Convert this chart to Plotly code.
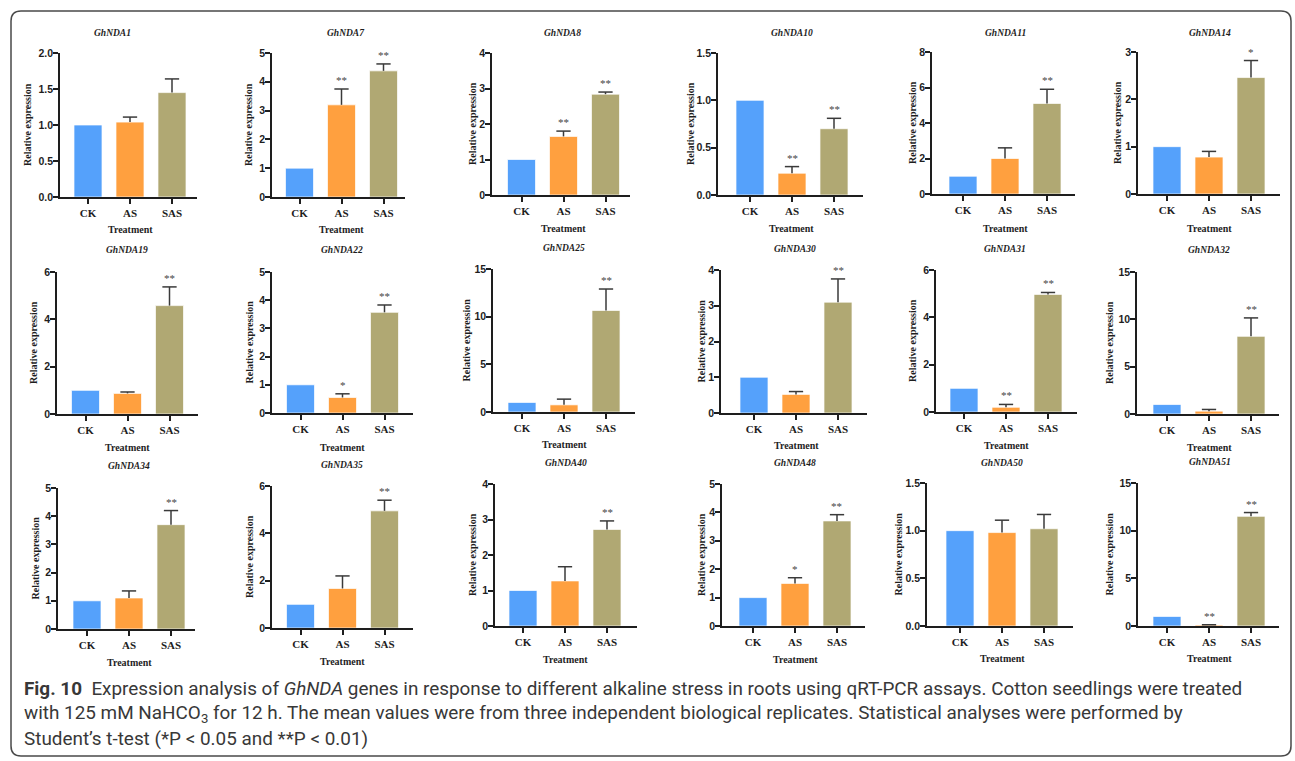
import plotly.graph_objects as go

W, H = 1295, 761

# ---------------- data ----------------
genes = ["GhNDA1", "GhNDA7", "GhNDA8", "GhNDA10", "GhNDA11", "GhNDA14",
         "GhNDA19", "GhNDA22", "GhNDA25", "GhNDA30", "GhNDA31", "GhNDA32",
         "GhNDA34", "GhNDA35", "GhNDA40", "GhNDA48", "GhNDA50", "GhNDA51"]
treatments = ["CK", "AS", "SAS"]
ck_mean = [1.0, 1.0, 1.0, 1.0, 1.0, 1.0, 1.0, 1.0, 1.0,
           1.0, 1.0, 1.0, 1.0, 1.0, 1.0, 1.0, 1.0, 1.0]
as_mean = [1.04, 3.20, 1.65, 0.23, 2.00, 0.78,
           0.87, 0.55, 0.75, 0.52, 0.20, 0.30,
           1.10, 1.67, 1.27, 1.50, 0.98, 0.10]
as_err = [0.07, 0.55, 0.15, 0.07, 0.60, 0.12,
          0.06, 0.13, 0.60, 0.08, 0.12, 0.18,
          0.25, 0.53, 0.40, 0.20, 0.13, 0.03]
sas_mean = [1.45, 4.38, 2.84, 0.70, 5.10, 2.46,
            4.58, 3.57, 10.65, 3.10, 4.97, 8.20,
            3.70, 4.95, 2.72, 3.70, 1.02, 11.50]
sas_err = [0.19, 0.24, 0.06, 0.11, 0.80, 0.36,
           0.79, 0.26, 2.25, 0.65, 0.08, 1.95,
           0.50, 0.45, 0.24, 0.22, 0.15, 0.40]
as_sig = ["", "**", "**", "**", "", "",
          "", "*", "", "", "**", "",
          "", "", "", "*", "", "**"]
sas_sig = ["", "**", "**", "**", "**", "*",
           "**", "**", "**", "**", "**", "**",
           "**", "**", "**", "**", "", "**"]
y_top = [2.0, 5, 4, 1.5, 8, 3,
         6, 5, 15, 4, 6, 15,
         5, 6, 4, 5, 1.5, 15]
y_step = [0.5, 1, 1, 0.5, 2, 1,
          2, 1, 5, 1, 2, 5,
          1, 2, 1, 1, 0.5, 5]

# ---------------- layout (pixels) ----------------
axis_left = [60, 272, 492, 718, 932, 1138,
             57, 272, 493, 721, 936, 1137,
             58, 272, 495, 722, 927, 1138]
axis_right = [197, 405, 630, 863, 1075, 1280,
              198, 413, 635, 867, 1077, 1279,
              195, 413, 637, 865, 1073, 1279]
ck_center = [88, 299.5, 521.5, 750, 963, 1167,
             85.5, 300.5, 522, 754, 964, 1167,
             87, 300.5, 523, 753, 960, 1167]
plot_top = [53, 53, 53, 53, 52, 52,
            272, 272, 269, 270, 270, 272,
            488, 486, 484, 484, 483, 483]
plot_bottom = [197, 197, 195, 195, 194, 194,
               414, 413, 412, 413, 412, 414,
               629, 628, 626, 626, 626, 626]
title_x = [112, 346, 562, 792, 1005, 1210,
           127, 342, 564, 795, 1005, 1209,
           129, 342, 566, 795, 1002, 1210]
title_y = [33, 33, 33, 33, 33, 33,
           250, 250, 248, 249, 249, 250,
           466, 465, 463, 463, 463, 462]
ylab_x = [28, 249, 472, 690, 912, 1117,
          33, 249, 466, 701, 912, 1109,
          35, 249, 472, 701, 898, 1109]
xlab_y = [229, 229, 228, 228, 228, 228,
          447, 447, 444, 446, 446, 447,
          662, 661, 659, 659, 658, 658]
SLOT = 42.0  # px between category centres

colors = ["#55A1FB", "#FFA03F", "#B0A873"]
ink = "#1e1e1e"
serif = "Liberation Serif"
sans = "Liberation Sans"


def px(x):
    return x / W


def py(y):
    return 1 - y / H


fig = go.Figure()
annotations = []
layout_axes = {}

for i, g in enumerate(genes):
    n = "" if i == 0 else str(i + 1)
    xa, ya = "x" + n, "y" + n
    means = [ck_mean[i], as_mean[i], sas_mean[i]]
    errs = [0.0, as_err[i], sas_err[i]]
    sigs = ["", as_sig[i], sas_sig[i]]

    fig.add_trace(go.Bar(
        x=[0, 1, 2], y=means, width=0.667,
        marker=dict(color=colors, line=dict(color="rgba(255,255,255,0.7)", width=1)),
        xaxis=xa, yaxis=ya, showlegend=False, hoverinfo="skip"))

    ex, ey = [], []
    for k in range(3):
        if errs[k] > 0:
            top = means[k] + errs[k]
            ex += [k, k, None, k - 0.17, k + 0.17, None]
            ey += [means[k], top, None, top, top, None]
    fig.add_trace(go.Scatter(
        x=ex, y=ey, mode="lines", line=dict(color="#3a3a3a", width=1.5),
        xaxis=xa, yaxis=ya, showlegend=False, hoverinfo="skip"))

    for k in range(3):
        if sigs[k]:
            annotations.append(dict(
                x=k, y=means[k] + errs[k], xref=xa, yref=ya,
                text=sigs[k], showarrow=False, xanchor="center",
                yanchor="bottom", yshift=1,
                font=dict(family=serif, size=11, color="#444")))

    xr0 = (axis_left[i] - ck_center[i]) / SLOT
    xr1 = 2 + (axis_right[i] - (ck_center[i] + 2 * SLOT)) / SLOT
    fmt = ".1f" if y_step[i] < 1 else "d"
    layout_axes["xaxis" + n] = dict(
        domain=[px(axis_left[i]), px(axis_right[i])], anchor=ya,
        range=[xr0, xr1], tickvals=[0, 1, 2], ticktext=treatments,
        showline=True, linecolor=ink, linewidth=1.6, automargin=False,
        ticks="outside", ticklen=5, tickwidth=1.5, tickcolor=ink,
        showgrid=False, zeroline=False, fixedrange=True,
        tickfont=dict(family=serif, size=11, color=ink, weight="bold"))
    layout_axes["yaxis" + n] = dict(
        domain=[py(plot_bottom[i]), py(plot_top[i])], anchor=xa,
        range=[0, y_top[i]], tick0=0, dtick=y_step[i], tickformat=fmt,
        showline=True, linecolor=ink, linewidth=1.6, automargin=False,
        ticks="outside", ticklen=5, tickwidth=1.5, tickcolor=ink,
        ticklabelstandoff=-2,
        showgrid=False, zeroline=False, fixedrange=True,
        tickfont=dict(family=sans, size=10.5, color=ink, weight="bold"))

    # panel title
    annotations.append(dict(
        x=px(title_x[i]), y=py(title_y[i]), xref="paper", yref="paper",
        xanchor="center", yanchor="middle",
        text="<b><i>" + g + "</i></b>", showarrow=False,
        font=dict(family=serif, size=9.5, color=ink)))
    # y label
    annotations.append(dict(
        x=px(ylab_x[i]), y=py((plot_top[i] + plot_bottom[i]) / 2),
        xref="paper", yref="paper", textangle=-90,
        xanchor="center", yanchor="middle",
        text="<b>Relative expression</b>", showarrow=False,
        font=dict(family=serif, size=10, color=ink)))
    # x label
    annotations.append(dict(
        x=px(ck_center[i] + SLOT), y=py(xlab_y[i]), xref="paper", yref="paper",
        xanchor="center", yanchor="middle",
        text="<b>Treatment</b>", showarrow=False,
        font=dict(family=serif, size=10, color=ink)))

# caption
cap_font = dict(family="Roboto", size=18.9, color="#383838")
caption_lines = [
    "<b>Fig. 10</b>  Expression analysis of <i>GhNDA</i> genes in response to different alkaline stress in roots using qRT-PCR assays. Cotton seedlings were treated",
    "with 125 mM NaHCO<sub>3</sub> for 12 h. The mean values were from three independent biological replicates. Statistical analyses were performed by",
    "Student\u2019s t-test (*P < 0.05 and **P < 0.01)",
]
cap_y = [688, 713, 738]
for t, yy in zip(caption_lines, cap_y):
    annotations.append(dict(
        x=px(22), y=py(yy), xref="paper", yref="paper", xanchor="left",
        yanchor="middle", text=t, showarrow=False, font=cap_font))

# rounded border
x0, x1, y0, y1 = 11, 1291, 11, 756
r = 10
path = (f"M {px(x0 + r)},{py(y0)} L {px(x1 - r)},{py(y0)} "
        f"Q {px(x1)},{py(y0)} {px(x1)},{py(y0 + r)} "
        f"L {px(x1)},{py(y1 - r)} Q {px(x1)},{py(y1)} {px(x1 - r)},{py(y1)} "
        f"L {px(x0 + r)},{py(y1)} Q {px(x0)},{py(y1)} {px(x0)},{py(y1 - r)} "
        f"L {px(x0)},{py(y0 + r)} Q {px(x0)},{py(y0)} {px(x0 + r)},{py(y0)} Z")

fig.update_layout(
    template="none",
    width=W, height=H, margin=dict(l=0, r=0, t=0, b=0, autoexpand=False),
    paper_bgcolor="white", plot_bgcolor="white",
    showlegend=False, annotations=annotations,
    shapes=[dict(type="path", path=path, xref="paper", yref="paper",
                 line=dict(color="#4a4a4a", width=1.5), layer="below")],
    **layout_axes)

fig.write_html("out.html", config={"displayModeBar": False})
